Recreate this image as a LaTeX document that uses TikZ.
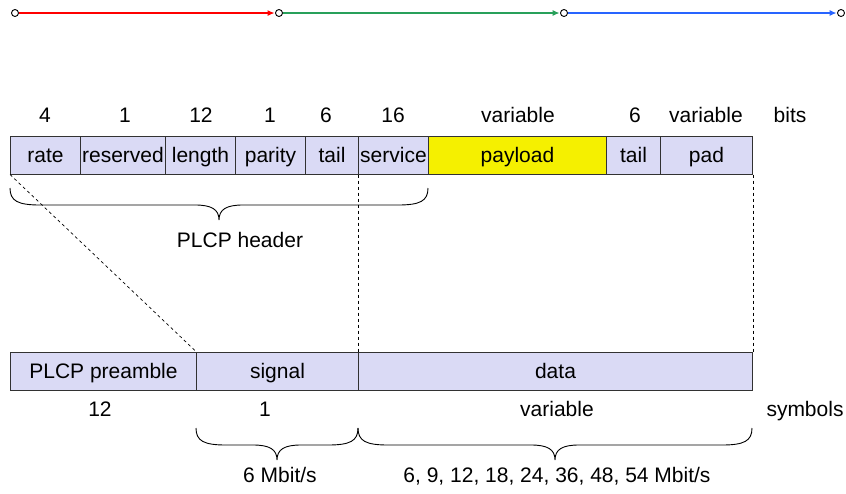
\documentclass[tikz,border=0pt]{standalone}
\usepackage{fontspec}
\setmainfont{Liberation Sans}
\usetikzlibrary{arrows.meta}
\definecolor{cellfill}{RGB}{218,218,245}
\definecolor{payfill}{RGB}{245,240,0}
\definecolor{cellline}{RGB}{50,50,50}
\definecolor{segred}{RGB}{255,0,0}
\definecolor{seggreen}{RGB}{40,160,90}
\definecolor{segblue}{RGB}{40,100,255}
% curly brace opening downwards: x1, x2, top y (picture units, y grows down)
\newcommand{\downbrace}[3]{%
  \pgfmathsetmacro{\bc}{(#1+#2)/2}%
  \draw[bracestyle] (#1,#3) .. controls (#1,#3+13) and (#1+8,#3+17) .. (#1+30,#3+17)
    -- (\bc-24,#3+17) .. controls (\bc-8,#3+17) and (\bc,#3+21) .. (\bc,#3+32)
    .. controls (\bc,#3+21) and (\bc+8,#3+17) .. (\bc+24,#3+17)
    -- (#2-30,#3+17) .. controls (#2-8,#3+17) and (#2,#3+13) .. (#2,#3);}
\begin{document}
\begin{tikzpicture}[x=1pt,y=-1pt,
  every node/.style={font=\fontsize{21}{25}\selectfont},
  cell/.style={draw=cellline,line width=1pt,fill=cellfill,inner sep=0pt,
    minimum height=38pt,anchor=west,text height=15pt,text depth=0pt},
  lab/.style={inner sep=0pt,text height=15pt,text depth=0pt},
  guide/.style={dashed,line width=0.7pt},
  bracestyle/.style={line width=0.9pt},
  dot/.style={circle,draw,line width=0.9pt,inner sep=0pt,minimum size=7pt},
  seg/.style={line width=1.2pt,-{Latex[length=7pt,width=6pt]},shorten >=0.5pt}]
\useasboundingbox (0,0) rectangle (846,493);

% timeline
\node[dot] (t1) at (15,13) {};
\node[dot] (t2) at (279,13) {};
\node[dot] (t3) at (564,13) {};
\node[dot] (t4) at (841,13) {};
\draw[seg,segred] (t1) -- (t2);
\draw[seg,seggreen] (t2) -- (t3);
\draw[seg,segblue] (t3) -- (t4);

% bit fields
\node[cell,minimum width=70pt] (rate) at (10,155) {rate};
\node[cell,minimum width=85pt] (reserved) at (80,155) {reserved};
\node[cell,minimum width=70pt] (length) at (165,155) {length};
\node[cell,minimum width=70pt] (parity) at (235,155) {parity};
\node[cell,minimum width=53pt] (tailA) at (305,155) {tail};
\node[cell,minimum width=70pt] (service) at (358,155) {service};
\node[cell,minimum width=178pt,fill=payfill] (payload) at (428,155) {payload};
\node[cell,minimum width=54pt] (tailB) at (606,155) {tail};
\node[cell,minimum width=92pt] (pad) at (660,155) {pad};

% bit counts
\node[lab] (b1) at (45,115) {4};
\node[lab] (b2) at (125,115) {1};
\node[lab] (b3) at (201,115) {12};
\node[lab] (b4) at (270,115) {1};
\node[lab] (b5) at (326,115) {6};
\node[lab] (b6) at (393,115) {16};
\node[lab] (b7) at (518,115) {variable};
\node[lab] (b8) at (635,115) {6};
\node[lab] (b9) at (706,115) {variable};
\node[lab] (b10) at (790,115) {bits};

% PPDU parts
\node[cell,minimum width=186pt] (preamble) at (10,371) {PLCP preamble};
\node[cell,minimum width=162pt] (signal) at (196,371) {signal};
\node[cell,minimum width=394pt] (data) at (358,371) {data};

% symbol counts
\node[lab] (s1) at (100,409) {12};
\node[lab] (s2) at (265,409) {1};
\node[lab] (s3) at (557,409) {variable};
\node[lab] (s4) at (805,409) {symbols};

% guide lines between the two rows
\draw[guide] (rate.south west) -- (signal.north west);
\draw[guide] (service.south west) -- (data.north west);
\draw[guide] (pad.south east) -- (data.north east);

% braces and their labels
\downbrace{10}{428}{188}
\node[lab] (hdr) at (240,240) {PLCP header};
\downbrace{196}{358}{428}
\downbrace{358}{752}{428}
\node[lab] (r1) at (280,475) {6 Mbit/s};
\node[lab] (r2) at (557,475) {6, 9, 12, 18, 24, 36, 48, 54 Mbit/s};
\end{tikzpicture}
\end{document}
